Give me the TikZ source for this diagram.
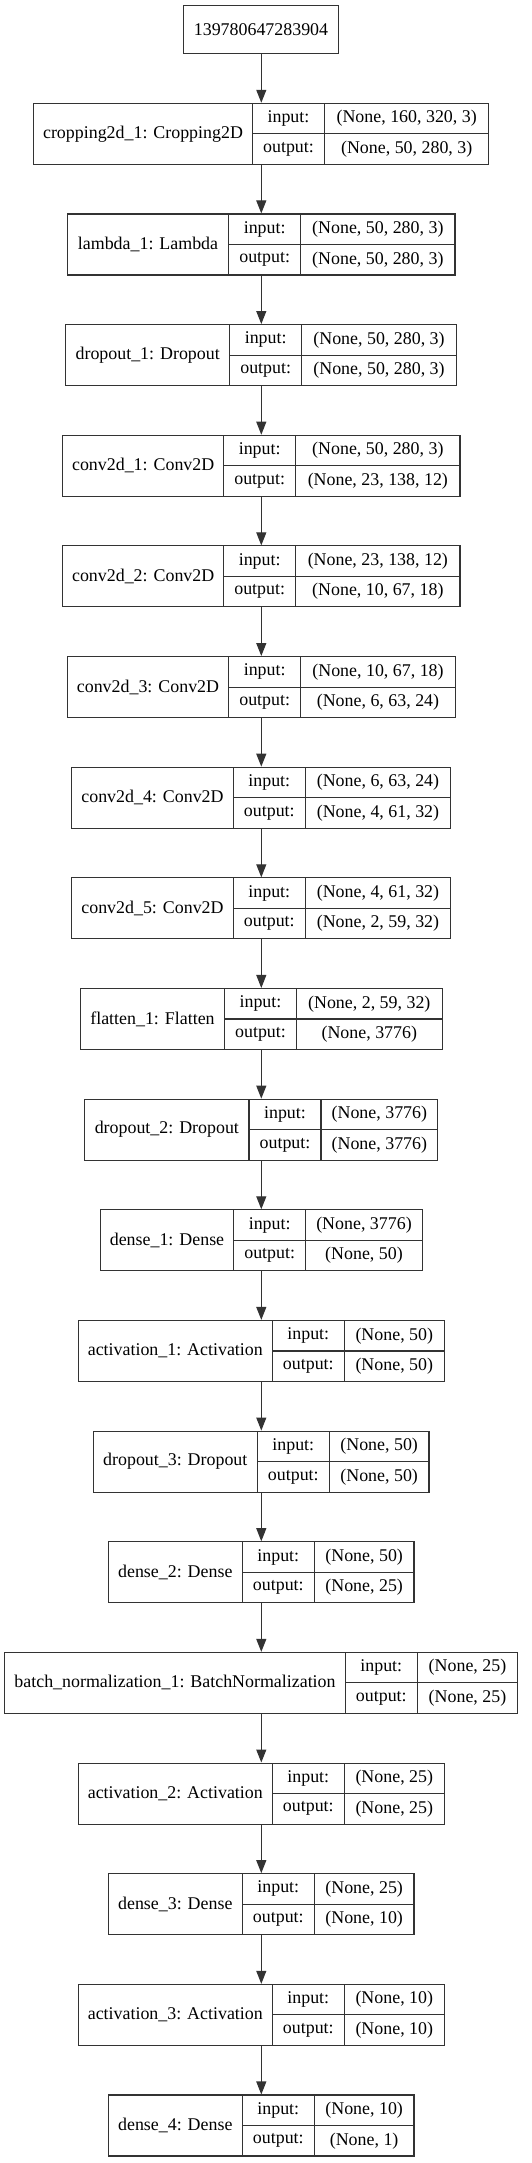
\documentclass[tikz,border=0pt]{standalone}
\usepackage{fontspec}
\setmainfont{Liberation Serif}
\usetikzlibrary{arrows.meta}
\tikzset{
  cell/.style={draw=black!80, line width=1.1pt, inner sep=0pt, rectangle,
    font=\fontsize{17.9}{20}\selectfont, text=black},
  arr/.style={draw=black!80, line width=1.1pt,
    -{Triangle[length=13pt,width=10pt]}},
}
\newcommand\layerbox[9]{%
  \pgfmathsetmacro\ttop{-(103.3+110.65*(#2-1))}%
  \node[cell, minimum width={(#4-#3)*1pt}, minimum height=61pt] (#1) at ({(#3+#4)/2},{\ttop-30.5}) {#7};
  \node[cell, minimum width={(#5-#4)*1pt}, minimum height=30.5pt] (#1-ik) at ({(#4+#5)/2},{\ttop-15.25}) {input:};
  \node[cell, minimum width={(#5-#4)*1pt}, minimum height=30.5pt] (#1-ok) at ({(#4+#5)/2},{\ttop-45.75}) {output:};
  \node[cell, minimum width={(#6-#5)*1pt}, minimum height=30.5pt] (#1-iv) at ({(#5+#6)/2},{\ttop-15.25}) {#8};
  \node[cell, minimum width={(#6-#5)*1pt}, minimum height=30.5pt] (#1-ov) at ({(#5+#6)/2},{\ttop-45.75}) {#9};
}
\begin{document}
\begin{tikzpicture}[x=1pt,y=1pt]
\useasboundingbox (0,0) rectangle (532,-2163);
\fill[white] (0,0) rectangle (532,-2163);
\coordinate (ax) at (261.3,0);
\node[cell, minimum width=155.4pt, minimum height=48pt] (inp) at (261,-29.7) {139780647283904};
\layerbox{l1}{1}{33.7}{252.3}{324.7}{488.7}{cropping2d\_1: Cropping2D}{(None, 160, 320, 3)}{(None, 50, 280, 3)}
\layerbox{l2}{2}{67.3}{228.7}{300.7}{455}{lambda\_1: Lambda}{(None, 50, 280, 3)}{(None, 50, 280, 3)}
\layerbox{l3}{3}{65.7}{229.7}{301.7}{456.3}{dropout\_1: Dropout}{(None, 50, 280, 3)}{(None, 50, 280, 3)}
\layerbox{l4}{4}{62.7}{223.7}{295.7}{460}{conv2d\_1: Conv2D}{(None, 50, 280, 3)}{(None, 23, 138, 12)}
\layerbox{l5}{5}{62.7}{223.7}{295.7}{460}{conv2d\_2: Conv2D}{(None, 23, 138, 12)}{(None, 10, 67, 18)}
\layerbox{l6}{6}{67.3}{228.7}{300.7}{455.3}{conv2d\_3: Conv2D}{(None, 10, 67, 18)}{(None, 6, 63, 24)}
\layerbox{l7}{7}{71.7}{233.3}{305.3}{450.7}{conv2d\_4: Conv2D}{(None, 6, 63, 24)}{(None, 4, 61, 32)}
\layerbox{l8}{8}{71.7}{233.3}{305.3}{450.7}{conv2d\_5: Conv2D}{(None, 4, 61, 32)}{(None, 2, 59, 32)}
\layerbox{l9}{9}{80.3}{224.7}{296.3}{442.3}{flatten\_1: Flatten}{(None, 2, 59, 32)}{(None, 3776)}
\layerbox{l10}{10}{84.7}{249}{321}{437.7}{dropout\_2: Dropout}{(None, 3776)}{(None, 3776)}
\layerbox{l11}{11}{100.3}{233.7}{305.7}{422.3}{dense\_1: Dense}{(None, 3776)}{(None, 50)}
\layerbox{l12}{12}{78.3}{272.3}{344.3}{444.3}{activation\_1: Activation}{(None, 50)}{(None, 50)}
\layerbox{l13}{13}{93.3}{257.3}{329.3}{429}{dropout\_3: Dropout}{(None, 50)}{(None, 50)}
\layerbox{l14}{14}{108.3}{242.3}{314.3}{414}{dense\_2: Dense}{(None, 50)}{(None, 25)}
\layerbox{l15}{15}{4.7}{345.3}{417.3}{517.7}{batch\_normalization\_1: BatchNormalization}{(None, 25)}{(None, 25)}
\layerbox{l16}{16}{78.3}{272.3}{344.3}{444.3}{activation\_2: Activation}{(None, 25)}{(None, 25)}
\layerbox{l17}{17}{108.3}{242.3}{314.3}{414}{dense\_3: Dense}{(None, 25)}{(None, 10)}
\layerbox{l18}{18}{78.3}{272.3}{344.3}{444.3}{activation\_3: Activation}{(None, 10)}{(None, 10)}
\layerbox{l19}{19}{108.3}{242.3}{314.3}{414}{dense\_4: Dense}{(None, 10)}{(None, 1)}
\draw[arr] (inp.south -| ax) -- (l1.north -| ax);
\foreach \a/\b in {l1/l2,l2/l3,l3/l4,l4/l5,l5/l6,l6/l7,l7/l8,l8/l9,l9/l10,l10/l11,l11/l12,l12/l13,l13/l14,l14/l15,l15/l16,l16/l17,l17/l18,l18/l19}
  \draw[arr] (\a.south -| ax) -- (\b.north -| ax);
\end{tikzpicture}
\end{document}
